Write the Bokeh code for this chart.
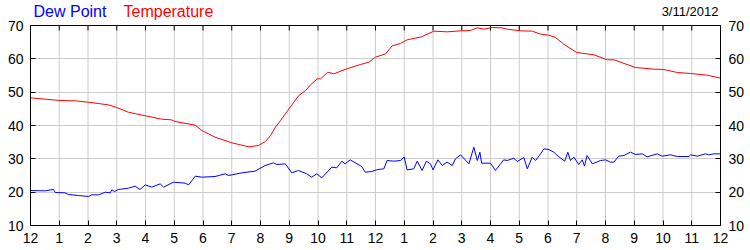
from bokeh.plotting import figure
from bokeh.models import Range1d, FixedTicker, LinearAxis
from bokeh.core.properties import value
from bokeh.embed import file_html
from bokeh.resources import INLINE

# ---- data ----
hour_ticks = list(range(0, 25))
hour_labels = ["12", "1", "2", "3", "4", "5", "6", "7", "8", "9", "10", "11",
               "12", "1", "2", "3", "4", "5", "6", "7", "8", "9", "10", "11", "12"]
y_ticks = [10, 20, 30, 40, 50, 60, 70]

temp_hours = [0, 1.03, 1.55, 2.0, 2.7, 3.0, 3.4, 4.0, 4.56, 4.9, 5.03, 5.73, 5.96, 6.42, 7.0,
              7.6, 7.93, 8.17, 8.35, 8.52, 8.7, 8.99, 9.33, 9.57, 9.74, 9.97, 10.09, 10.34,
              10.55, 11.0, 11.48, 11.77, 12.0, 12.35, 12.58, 12.87, 13.1, 13.6, 14.03, 14.5,
              14.96, 15.3, 15.54, 15.77, 16.06, 16.4, 16.58, 17.04, 17.45, 17.74, 18.03,
              18.26, 18.55, 19.0, 19.6, 20.06, 20.3, 21.04, 21.68, 22.03, 22.5, 22.96,
              23.54, 24.0]
temperature = [48.3, 47.5, 47.4, 47.0, 46.2, 45.4, 44.0, 42.9, 41.9, 41.7, 41.2, 40.1, 38.5,
               36.5, 34.8, 33.6, 34.0, 35.2, 37.0, 39.5, 41.5, 45.0, 49.0, 50.5, 52.2, 54.0,
               54.0, 56.0, 55.5, 57.0, 58.3, 59.0, 60.5, 61.5, 63.9, 64.6, 65.7, 66.6, 68.3,
               68.1, 68.4, 68.5, 69.3, 68.9, 69.4, 69.3, 68.9, 68.4, 68.3, 67.4, 67.1, 66.4,
               64.4, 61.9, 61.2, 59.7, 59.7, 57.4, 56.9, 56.8, 55.9, 55.6, 55.1, 54.2]

dew_hours = [0, 0.51, 0.8, 0.86, 1.2, 1.32, 1.67, 2.02, 2.13, 2.37, 2.6, 2.77, 2.83, 2.92,
             3.06, 3.41, 3.64, 3.81, 3.99, 4.22, 4.51, 4.63, 4.97, 5.38, 5.5, 5.73, 5.96,
             6.42, 6.77, 6.89, 7.35, 7.81, 8.16, 8.45, 8.57, 8.86, 9.09, 9.32, 9.61, 9.78,
             9.96, 10.13, 10.48, 10.65, 10.83, 10.94, 11.12, 11.52, 11.64, 11.87, 12.08,
             12.29, 12.4, 12.64, 12.87, 13.0, 13.1, 13.33, 13.45, 13.62, 13.77, 13.91, 14.0,
             14.17, 14.32, 14.49, 14.67, 14.78, 14.96, 15.25, 15.42, 15.54, 15.63, 15.69,
             16.0, 16.17, 16.35, 16.46, 16.58, 16.81, 16.93, 17.16, 17.28, 17.45, 17.57,
             17.74, 17.86, 18.03, 18.2, 18.38, 18.58, 18.69, 18.78, 18.9, 19.07, 19.19,
             19.27, 19.36, 19.54, 19.83, 20.0, 20.17, 20.29, 20.46, 20.64, 20.87, 21.04,
             21.28, 21.45, 21.8, 21.97, 22.26, 22.5, 22.9, 22.96, 23.19, 23.48, 23.59,
             23.77, 24.0]
dew_point = [20.5, 20.4, 20.8, 19.9, 19.8, 19.3, 19.0, 18.7, 19.2, 19.2, 20.0, 19.8, 20.7,
             20.2, 20.8, 21.2, 21.8, 20.8, 22.2, 21.5, 22.5, 21.5, 23.0, 22.7, 22.2, 24.8,
             24.5, 24.7, 25.5, 25.0, 25.8, 26.3, 28.0, 28.8, 28.3, 28.5, 25.8, 26.5, 25.5,
             24.5, 25.5, 24.3, 27.5, 27.3, 29.3, 28.5, 29.7, 27.7, 26.0, 26.2, 26.8, 27.0,
             29.5, 29.3, 29.5, 30.5, 26.7, 27.0, 29.3, 26.5, 29.3, 28.5, 26.7, 29.7, 28.0,
             29.0, 28.0, 30.0, 31.2, 28.5, 33.5, 29.5, 32.0, 28.7, 28.7, 26.5, 28.5, 29.7,
             29.5, 30.2, 29.2, 30.4, 27.0, 30.5, 29.5, 31.5, 33.0, 32.8, 32.0, 30.6, 29.3,
             32.0, 29.5, 30.5, 28.3, 29.7, 27.8, 31.0, 28.5, 29.5, 29.7, 29.0, 29.0, 30.8,
             31.0, 32.0, 31.3, 31.5, 30.6, 31.5, 30.8, 31.2, 30.7, 30.7, 31.2, 30.8, 31.5,
             31.2, 31.5, 31.5]

date_text = "3/11/2012"
series_names = ["Dew Point", "Temperature"]
series_colors = ["#0000ff", "#ff0000"]

FONT = "Liberation Sans"
X_MIN, X_MAX = 0, 24
Y_MIN, Y_MAX = 10, 70
PLOT_PX = 200        # pixel height of the 10..70 area
HEADER_PX = 25       # header strip above the plot box
units_per_px = (Y_MAX - Y_MIN) / PLOT_PX

p = figure(width=750, height=250, output_backend="svg", toolbar_location=None,
           x_range=Range1d(X_MIN, X_MAX),
           y_range=Range1d(Y_MIN, Y_MAX + HEADER_PX * units_per_px),
           min_border_left=30, min_border_right=30, min_border_top=0, min_border_bottom=25,
           x_axis_location=None, y_axis_location=None)
p.background_fill_color = "white"
p.border_fill_color = "white"
p.outline_line_color = None


def style_axis(ax, ticks, overrides=None):
    ax.ticker = FixedTicker(ticks=ticks)
    if overrides:
        ax.major_label_overrides = overrides
    ax.axis_line_color = "black"
    ax.major_tick_line_color = "black"
    ax.major_tick_in = 5
    ax.major_tick_out = 0
    ax.minor_tick_line_color = None
    ax.major_label_text_font = FONT
    ax.major_label_text_font_size = "14px"
    ax.major_label_text_color = "#000000"
    ax.major_label_standoff = 7


bottom = LinearAxis()
style_axis(bottom, hour_ticks, {t: l for t, l in zip(hour_ticks, hour_labels)})
p.add_layout(bottom, "below")

left = LinearAxis(bounds=(Y_MIN, Y_MAX))
style_axis(left, y_ticks)
p.add_layout(left, "left")

right = LinearAxis(bounds=(Y_MIN, Y_MAX))
style_axis(right, y_ticks)
right.major_label_standoff = 8
p.add_layout(right, "right")

# grid
p.ygrid.ticker = FixedTicker(ticks=y_ticks)
p.ygrid.grid_line_color = "#cccccc"
p.xgrid.visible = False
n = len(hour_ticks)
p.segment(x0=hour_ticks, y0=[Y_MIN] * n, x1=hour_ticks, y1=[Y_MAX] * n,
          line_color="#cccccc", line_width=1)

# plot box top edge and inward tick marks along it
p.segment(x0=[X_MIN], y0=[Y_MAX], x1=[X_MAX], y1=[Y_MAX], line_color="black", line_width=1)
p.segment(x0=hour_ticks, y0=[Y_MAX] * n, x1=hour_ticks, y1=[Y_MAX - 5 * units_per_px] * n,
          line_color="black", line_width=1)

p.line(dew_hours, dew_point, line_color=series_colors[0], line_width=1)
p.line(temp_hours, temperature, line_color=series_colors[1], line_width=1)

# header texts
p.text(x=[X_MIN, X_MIN], y=[Y_MAX, Y_MAX], x_offset=[3, 93], y_offset=-14,
       text=series_names, text_color=series_colors,
       text_font=value(FONT), text_font_size=value("16px"),
       text_baseline="alphabetic", text_align="left")
p.text(x=[X_MAX], y=[Y_MAX], x_offset=-2, y_offset=-14, text=[date_text],
       text_color="#000000", text_font=value(FONT), text_font_size=value("13px"),
       text_baseline="alphabetic", text_align="right")

open("out.html", "w").write(file_html(p, INLINE))
